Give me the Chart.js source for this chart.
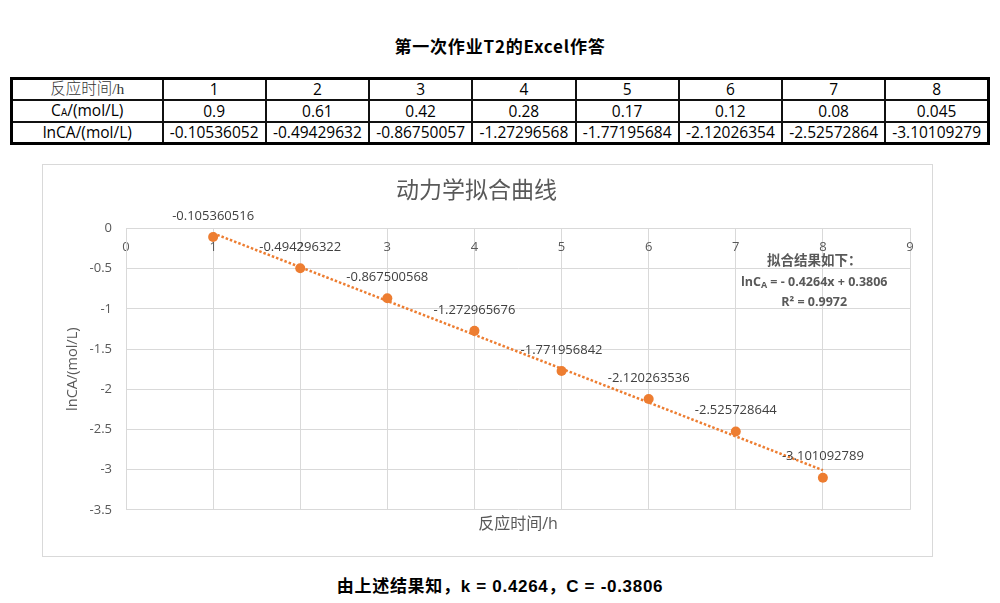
<!DOCTYPE html>
<html>
<head>
<meta charset="utf-8">
<script src="https://cdn.jsdelivr.net/npm/chart.js@4.4.1/dist/chart.umd.min.js"></script>
<style>
  body { margin: 0; background: #fff; width: 1000px; height: 603px; position: relative; overflow: hidden; }
  .caption { position: absolute; left: 0; width: 1000px; text-align: center; font: bold 17px/20px 'Noto Sans CJK SC', sans-serif; color: #000; }
  #head { top: 36px; letter-spacing: 0.8px; }
  #foot { top: 577px; font-family: 'Liberation Sans', 'Noto Sans CJK SC', sans-serif; letter-spacing: 0.7px; }
  #tbl { position: absolute; left: 10px; top: 77px; width: 980px; border-collapse: collapse; table-layout: fixed; border: 3px solid #000; }
  #tbl td { border: 2px solid #111; height: 18.6px; padding: 0; text-align: center; font: 15.5px/18.6px 'Open Sans', 'Noto Sans CJK SC', sans-serif; color: #000; white-space: nowrap; overflow: hidden; }
  #tbl td.serif { font-family: 'Liberation Serif', 'Noto Sans CJK SC', serif; font-weight: 300; color: #333; }
  #tbl sub { font-size: 10px; vertical-align: baseline; }
  #box { position: absolute; left: 42px; top: 164px; width: 891px; height: 393px; box-sizing: border-box; border: 1px solid #d9d9d9; }
  #chart { display: block; }
</style>
</head>
<body>
<div class="caption" id="head">第一次作业T2的Excel作答</div>
<table id="tbl">
  <colgroup><col style="width:151px"><col><col><col><col><col><col><col><col></colgroup>
  <tbody id="rows"></tbody>
</table>
<div id="box"><canvas id="chart" width="889" height="391"></canvas></div>
<div class="caption" id="foot">由上述结果知，k = 0.4264，C = -0.3806</div>

<script>
// 数据
const times = [1, 2, 3, 4, 5, 6, 7, 8];
const concentrations = [0.9, 0.61, 0.42, 0.28, 0.17, 0.12, 0.08, 0.045];
const lnValues = [-0.105360516, -0.494296322, -0.867500568, -1.272965676, -1.771956842, -2.120263536, -2.525728644, -3.101092789];

// 趋势线两端
const trendX = [1, 8];
const trendY = [-0.058, -3.007];

const yTickValues = [0, -0.5, -1, -1.5, -2, -2.5, -3, -3.5];
const yTickLabels = ['0', '-0.5', '-1', '-1.5', '-2', '-2.5', '-3', '-3.5'];

const fitNoteAt = { x: 7.9, y: -0.41 };

const orange = '#ED7D31';
const grey = '#595959';
const gridColor = '#D9D9D9';
const latin = "'Open Sans', 'Noto Sans CJK SC', sans-serif";

// 表格
const rows = document.getElementById('rows');
rows.innerHTML =
  '<tr><td class="serif">反应时间/h</td>' + times.map(t => '<td>' + t + '</td>').join('') + '</tr>' +
  '<tr><td>C<sub>A</sub>/(mol/L)</td>' + concentrations.map(c => '<td>' + c + '</td>').join('') + '</tr>' +
  '<tr><td>lnCA/(mol/L)</td>' + lnValues.map(v => '<td>' + v.toFixed(8) + '</td>').join('') + '</tr>';

// 数据标签
const pointLabels = {
  id: 'pointLabels',
  afterDatasetsDraw(chart) {
    const ctx = chart.ctx;
    const meta = chart.getDatasetMeta(0);
    ctx.save();
    ctx.font = '13px ' + latin;
    ctx.fillStyle = '#404040';
    ctx.textAlign = 'center';
    ctx.textBaseline = 'middle';
    meta.data.forEach((pt, i) => ctx.fillText(String(lnValues[i]), pt.x, pt.y - 21));
    ctx.restore();
  }
};

// 拟合结果文本框
const fitNote = {
  id: 'fitNote',
  afterDraw(chart) {
    const ctx = chart.ctx;
    const cx = chart.scales.x.getPixelForValue(fitNoteAt.x);
    const cy = chart.scales.y.getPixelForValue(fitNoteAt.y);
    const lines = [
      [['拟合结果如下：', 13.5, 0]],
      [['lnC', 12.5, 0], ['A', 9, 3], [' = - 0.4264x + 0.3806', 12.5, 0]],
      [['R² = 0.9972', 12.5, 0]]
    ];
    ctx.save();
    ctx.fillStyle = grey;
    ctx.textBaseline = 'middle';
    ctx.textAlign = 'left';
    lines.forEach((segs, li) => {
      let total = 0;
      segs.forEach(s => { ctx.font = 'bold ' + s[1] + 'px ' + latin; total += ctx.measureText(s[0]).width; });
      let x = cx - total / 2;
      const y = cy + li * 20.5;
      segs.forEach(s => {
        ctx.font = 'bold ' + s[1] + 'px ' + latin;
        ctx.fillText(s[0], x, y + s[2]);
        x += ctx.measureText(s[0]).width;
      });
    });
    ctx.restore();
  }
};

new Chart(document.getElementById('chart'), {
  type: 'scatter',
  data: {
    datasets: [
      {
        label: 'lnCA',
        data: times.map((t, i) => ({ x: t, y: lnValues[i] })),
        backgroundColor: orange,
        borderColor: orange,
        borderWidth: 0,
        pointRadius: 5,
        pointHoverRadius: 5,
        order: 0
      },
      {
        type: 'line',
        label: 'trend',
        data: trendX.map((t, i) => ({ x: t, y: trendY[i] })),
        borderColor: orange,
        borderWidth: 2.5,
        borderDash: [2.5, 2],
        pointRadius: 0,
        fill: false,
        order: 1
      }
    ]
  },
  options: {
    responsive: false,
    animation: false,
    font: { family: latin },
    layout: { padding: { left: 0, right: 22, top: 0, bottom: 18 } },
    plugins: {
      legend: { display: false },
      tooltip: { enabled: false },
      title: {
        display: true,
        text: '动力学拟合曲线',
        color: grey,
        font: { family: latin, size: 23, weight: 'normal' },
        padding: { top: 13, bottom: 23 }
      }
    },
    scales: {
      x: {
        type: 'linear',
        position: { y: 0 },
        min: 0,
        max: 9,
        ticks: { stepSize: 1, color: grey, font: { family: latin, size: 13 }, padding: 11 },
        grid: { color: gridColor, drawTicks: false },
        border: { color: gridColor }
      },
      xt: {
        type: 'linear',
        axis: 'x',
        position: 'bottom',
        ticks: { display: false },
        grid: { display: false, drawTicks: false },
        border: { display: false },
        title: { display: true, text: '反应时间/h', color: grey, font: { family: latin, size: 16 }, padding: { top: 5, bottom: 4 } }
      },
      y: {
        min: -3.5,
        max: 0,
        ticks: {
          stepSize: 0.5,
          color: grey,
          font: { family: latin, size: 13 },
          padding: 14,
          callback: v => {
            const i = yTickValues.findIndex(t => Math.abs(t - v) < 1e-9);
            return i >= 0 ? yTickLabels[i] : '';
          }
        },
        grid: { color: gridColor, drawTicks: false },
        border: { color: gridColor },
        title: { display: true, text: 'lnCA/(mol/L)', color: grey, font: { family: latin, size: 14.5 }, padding: { top: 21, bottom: 0 } },
        afterFit: s => { s.width = 83; }
      }
    }
  },
  plugins: [pointLabels, fitNote]
});
</script>
</body>
</html>
